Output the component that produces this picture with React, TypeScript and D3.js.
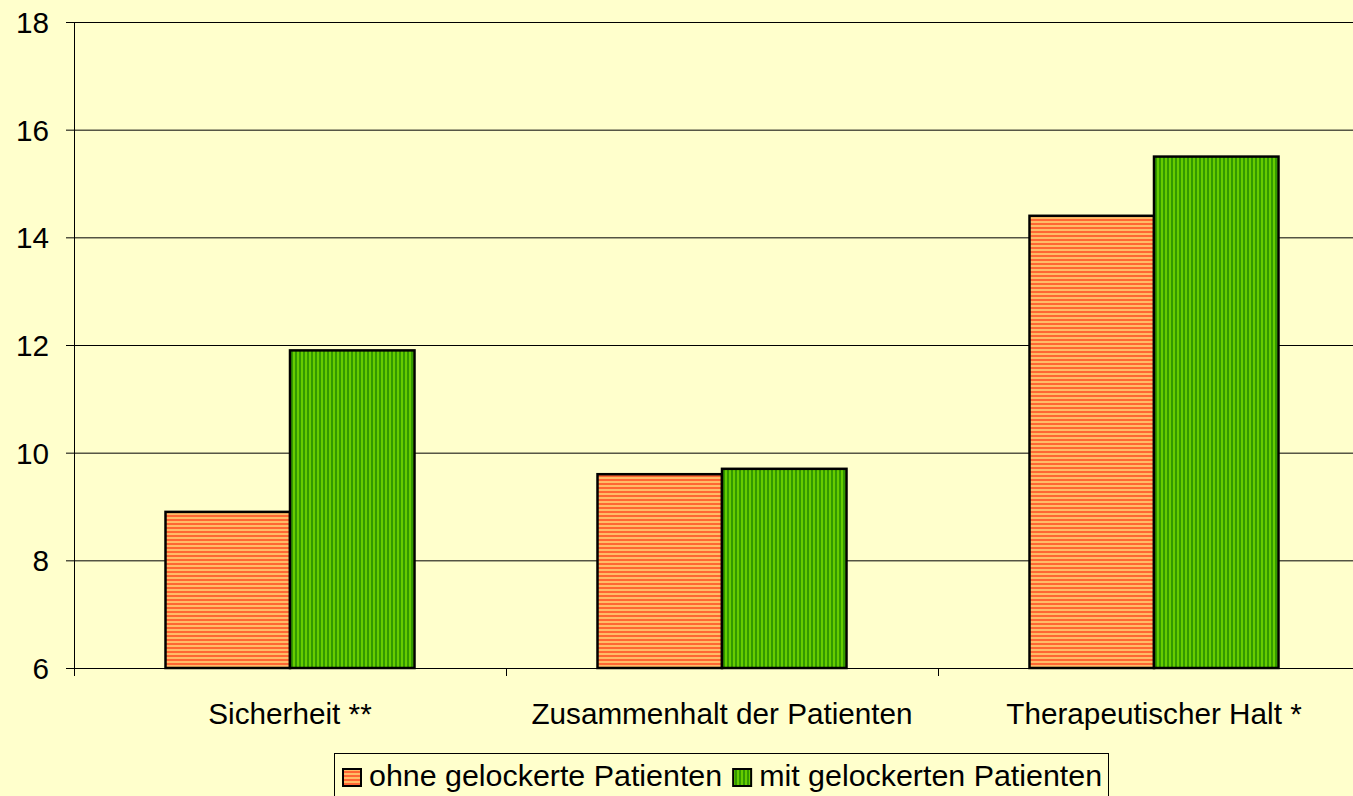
import React, { useEffect, useRef } from 'react'
import * as d3 from 'd3'

const categories = ['Sicherheit **', 'Zusammenhalt der Patienten', 'Therapeutischer Halt *']
const ohne = [8.9, 9.6, 14.4]
const mit = [11.9, 9.7, 15.5]
const seriesNames = ['ohne gelockerte Patienten', 'mit gelockerten Patienten']
const yTicks = [6, 8, 10, 12, 14, 16, 18]

export default function App() {
    const svgRef = useRef<SVGSVGElement>(null)
    const width = 1353, height = 796
    const margin = { top: 22, right: -17, bottom: 128, left: 74 }

    useEffect(() => {
        const svg = d3.select(svgRef.current)
        svg.selectAll('*').remove()

        const font = '"Liberation Sans", Arial, sans-serif'
        const fs = 29.7

        const defs = svg.append('defs')
        const po = defs.append('pattern').attr('id', 'pOhne')
            .attr('patternUnits', 'userSpaceOnUse').attr('width', 4).attr('height', 4)
        po.append('rect').attr('width', 4).attr('height', 4).attr('fill', '#ff6633')
        po.append('rect').attr('y', 1).attr('width', 4).attr('height', 2).attr('fill', '#ffbb66')
        const pm = defs.append('pattern').attr('id', 'pMit')
            .attr('patternUnits', 'userSpaceOnUse').attr('width', 4).attr('height', 4)
        pm.append('rect').attr('width', 4).attr('height', 4).attr('fill', '#339900')
        pm.append('rect').attr('x', 1).attr('width', 2).attr('height', 4).attr('fill', '#66cc00')

        svg.append('rect').attr('width', width).attr('height', height).attr('fill', '#ffffcc')

        const x = d3.scaleBand().domain(categories)
            .range([margin.left, width - margin.right])
        const y = d3.scaleLinear().domain([6, 18]).range([height - margin.bottom, margin.top])
        const barW = 124.5

        // grid
        svg.append('g').selectAll('line').data(yTicks.slice(1)).enter().append('line')
            .attr('x1', margin.left).attr('x2', width)
            .attr('y1', d => y(d) + 0.5).attr('y2', d => y(d) + 0.5)
            .attr('stroke', '#000').attr('stroke-width', 1)

        // y axis
        svg.append('line').attr('x1', margin.left + 0.5).attr('x2', margin.left + 0.5)
            .attr('y1', margin.top).attr('y2', y(6) + 8).attr('stroke', '#000')
        svg.append('g').selectAll('line').data(yTicks).enter().append('line')
            .attr('x1', margin.left - 8).attr('x2', margin.left)
            .attr('y1', d => y(d) + 0.5).attr('y2', d => y(d) + 0.5).attr('stroke', '#000')
        svg.append('g').selectAll('text').data(yTicks).enter().append('text')
            .attr('x', 49).attr('y', d => y(d) + 11)
            .attr('text-anchor', 'end').attr('font-family', font).attr('font-size', fs)
            .text(d => d)

        // x axis
        svg.append('line').attr('x1', margin.left).attr('x2', width)
            .attr('y1', y(6) + 0.5).attr('y2', y(6) + 0.5).attr('stroke', '#000')
        svg.append('g').selectAll('line').data(categories.slice(1)).enter().append('line')
            .attr('x1', d => (x(d) as number) + 0.5).attr('x2', d => (x(d) as number) + 0.5)
            .attr('y1', y(6)).attr('y2', y(6) + 8).attr('stroke', '#000')
        svg.append('g').selectAll('text').data(categories).enter().append('text')
            .attr('x', d => (x(d) as number) + x.bandwidth() / 2)
            .attr('y', 724).attr('text-anchor', 'middle')
            .attr('font-family', font).attr('font-size', fs).text(d => d)

        // bars
        const cx = (c: string) => (x(c) as number) + x.bandwidth() / 2
        svg.append('g').selectAll('rect').data(categories).enter().append('rect')
            .attr('x', d => cx(d) - barW).attr('width', barW)
            .attr('y', (d, i) => y(ohne[i])).attr('height', (d, i) => y(6) - y(ohne[i]))
            .attr('fill', 'url(#pOhne)').attr('stroke', '#000').attr('stroke-width', 2.5)
        svg.append('g').selectAll('rect').data(categories).enter().append('rect')
            .attr('x', d => cx(d)).attr('width', barW)
            .attr('y', (d, i) => y(mit[i])).attr('height', (d, i) => y(6) - y(mit[i]))
            .attr('fill', 'url(#pMit)').attr('stroke', '#000').attr('stroke-width', 2.5)

        // legend
        const lg = svg.append('g')
        lg.append('rect').attr('x', 334.5).attr('y', 753.5).attr('width', 774).attr('height', 50)
            .attr('fill', '#ffffcc').attr('stroke', '#000').attr('stroke-width', 1)
        const fills = ['url(#pOhne)', 'url(#pMit)']
        let bx = 343
        seriesNames.forEach((name, i) => {
            lg.append('rect').attr('x', bx).attr('y', 769).attr('width', 18).attr('height', 17)
                .attr('fill', fills[i]).attr('stroke', '#000').attr('stroke-width', 2)
            const t = lg.append('text').attr('x', bx + 26).attr('y', 786)
                .attr('font-family', font).attr('font-size', 30.4).text(name)
            bx = bx + 26 + (t.node() as SVGTextElement).getComputedTextLength() + 11
        })
    }, [])

    return (
        <svg ref={svgRef} width={width} height={height}
            style={{ position: 'absolute', left: 0, top: 0, display: 'block' }} />
    )
}
